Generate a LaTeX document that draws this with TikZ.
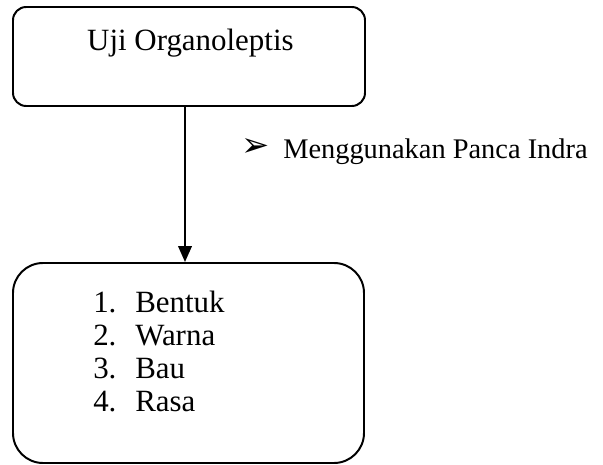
\documentclass[tikz,border=0pt]{standalone}
\usepackage{fontspec}
\setmainfont{Liberation Serif}
\newfontfamily\dingfont{DejaVu Sans}
\usetikzlibrary{arrows.meta}

\begin{document}
\begin{tikzpicture}[kotak/.style={draw,line width=1.4pt,rounded corners=#1,inner sep=0pt},
    panah/.style={-{Triangle[length=4mm,width=3.4mm]},line width=1.4pt}]

    \useasboundingbox (0,0) rectangle (15.075,11.6);

    \node[kotak=3.3mm, minimum width=8.8cm, minimum height=2.475cm]   (uji) at (4.725, 10.1875)   {};
    \node[kotak=7.5mm, minimum width=8.775cm, minimum height=5cm]     (hasil) at (4.7125, 2.525)  {};

    \node[anchor=base, inner sep=0pt, font=\fontsize{22}{26}\selectfont]    (judul) at (4.76, 10.325)   {Uji Organoleptis};
    \node[inner sep=0pt, font=\dingfont\fontsize{24}{28}\selectfont]       (tanda) at (6.39, 7.9)      {➢};
    \node[anchor=base west, inner sep=0pt, font=\fontsize{20.2}{24}\selectfont] (indra) at (7.075, 7.625) {Menggunakan Panca Indra};
    \node[anchor=base west, inner sep=0pt, font=\fontsize{22}{23.5}\selectfont] (daftar) at (2.325, 3.8) {%
      \begin{tabular}[t]{@{}p{1.05cm}@{}l@{}}
        1. & Bentuk\\
        2. & Warna\\
        3. & Bau\\
        4. & Rasa
      \end{tabular}};

    \draw[panah] ([xshift=-1mm]uji.south) -- ([xshift=-1mm]uji.south |- hasil.north);
\end{tikzpicture}
\end{document}
